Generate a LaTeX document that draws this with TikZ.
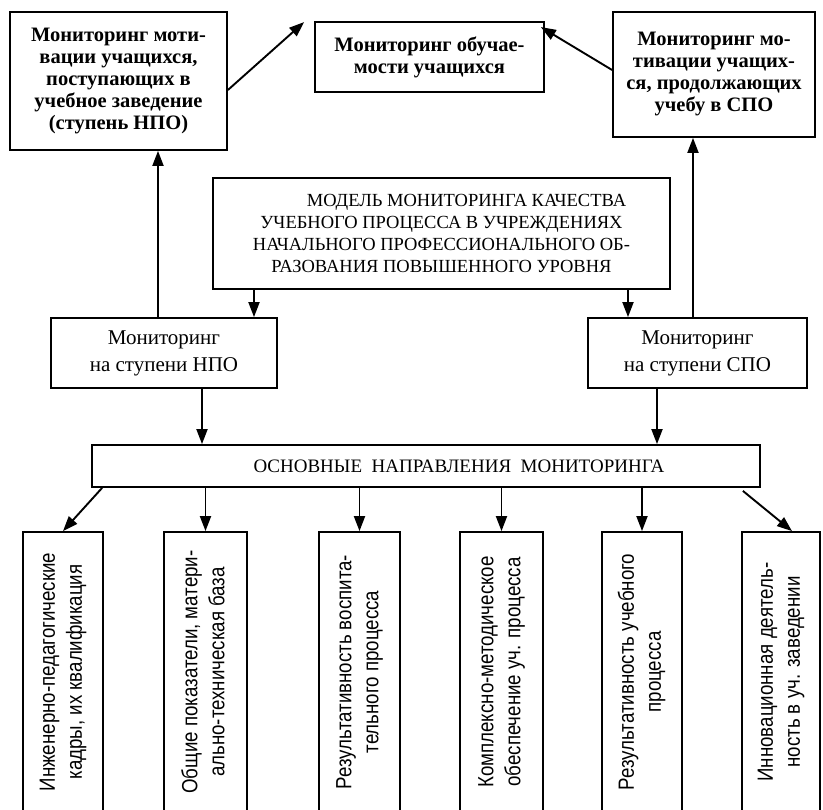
\documentclass[tikz,border=0pt]{standalone}
\usepackage{fontspec}
\setmainfont{Liberation Serif}
\newfontfamily\narrowsans[FakeStretch=0.85]{Liberation Sans}
\usetikzlibrary{arrows.meta}
\usetikzlibrary{calc}
\tikzset{box/.style={draw, line width=1.8pt, inner sep=0pt, align=center}, boxtop/.style={box, font=\fontsize{20.5}{22}\selectfont\bfseries}, boxmid/.style={box, font=\fontsize{21}{27}\selectfont}, arr/.style={line width=1.9pt, -{Triangle[length=15pt,width=11pt]}}}
\newcommand{\vtext}[1]{\rotatebox{90}{\narrowsans\fontsize{22}{27}\selectfont\begin{tabular}{@{}c@{}}#1\end{tabular}}}

\begin{document}
\begin{tikzpicture}[x=1pt, y=-1pt]
\useasboundingbox (0,0) rectangle (823,810);
\node[boxtop, minimum width=217pt, minimum height=138pt] (motnpo) at (118.5,81) {Мониторинг моти-\\вации учащихся,\\поступающих в\\учебное заведение\\(ступень НПО)};
\node[boxtop, minimum width=229pt, minimum height=70pt] (obuch) at (429.5,57) {Мониторинг обучае-\\мости учащихся};
\node[boxtop, minimum width=202pt, minimum height=125pt] (motspo) at (714,74.5) {Мониторинг мо-\\тивации учащих-\\ся, продолжающих\\учебу в СПО};
\node[box, minimum width=457pt, minimum height=111pt, font=\fontsize{18.5}{22}\selectfont] (model) at (441.5,233.5) {\hspace*{50pt}МОДЕЛЬ МОНИТОРИНГА КАЧЕСТВА\\УЧЕБНОГО ПРОЦЕССА В УЧРЕЖДЕНИЯХ\\НАЧАЛЬНОГО ПРОФЕССИОНАЛЬНОГО ОБ-\\РАЗОВАНИЯ ПОВЫШЕННОГО УРОВНЯ};
\node[boxmid, minimum width=226pt, minimum height=70pt] (npo) at (164,353) {Мониторинг\\на ступени НПО};
\node[boxmid, minimum width=219pt, minimum height=70pt] (spo) at (697.5,353) {Мониторинг\\на ступени СПО};
\node[box, minimum width=668pt, minimum height=42pt, font=\fontsize{19}{22}\selectfont] (osn) at (426,466) {\hspace*{66pt}ОСНОВНЫЕ\ \ НАПРАВЛЕНИЯ\ \ МОНИТОРИНГА};
\node[box, minimum width=80pt, minimum height=280pt] (kadry) at (63,672) {\vtext{Инженерно-педагогические\\кадры, их квалификация}};
\node[box, minimum width=83pt, minimum height=280pt] (baza) at (205.5,672) {\vtext{Общие показатели, матери-\\ально-техническая база}};
\node[box, minimum width=81pt, minimum height=280pt] (vosp) at (359.5,672) {\vtext{Результативность воспита-\\тельного процесса}};
\node[box, minimum width=83pt, minimum height=280pt] (metod) at (501.5,672) {\vtext{Комплексно-методическое\\обеспечение уч. процесса}};
\node[box, minimum width=80pt, minimum height=280pt] (ucheb) at (642,672) {\vtext{Результативность учебного\\процесса}};
\node[box, minimum width=78pt, minimum height=280pt] (innov) at (781,672) {\vtext{Инновационная деятель-\\ность в уч. заведении}};
\draw[arr] ($(motnpo.east)+(0,9)$) -- ($(obuch.north west)+(-10,1)$);
\draw[arr] ($(motspo.west)+(0,-4.5)$) -- ($(obuch.north east)+(-4,6)$);
\draw[arr] ($(npo.north)+(-6,0)$) -- ($(motnpo.south)+(39.5,0)$);
\draw[arr] ($(spo.north)+(-4.5,0)$) -- ($(motspo.south)+(-21,0)$);
\draw[arr] ($(model.south)+(-187.5,0)$) -- ($(npo.north)+(90,0)$);
\draw[arr] ($(model.south)+(186.5,0)$) -- ($(spo.north)+(-69.5,0)$);
\draw[arr] ($(npo.south)+(38,0)$) -- ($(osn.north)+(-224,0)$);
\draw[arr] ($(spo.south)+(-40.5,0)$) -- ($(osn.north)+(231,0)$);
\draw[arr] ($(osn.south west)+(11,0)$) -- (kadry.north);
\draw[arr] (baza.north |- osn.south) -- (baza.north);
\draw[arr] (vosp.north |- osn.south) -- (vosp.north);
\draw[arr] (metod.north |- osn.south) -- (metod.north);
\draw[arr] (ucheb.north |- osn.south) -- (ucheb.north);
\draw[arr] ($(osn.south east)+(-18,3)$) -- ($(innov.north)+(11,0)$);
\end{tikzpicture}
\end{document}
